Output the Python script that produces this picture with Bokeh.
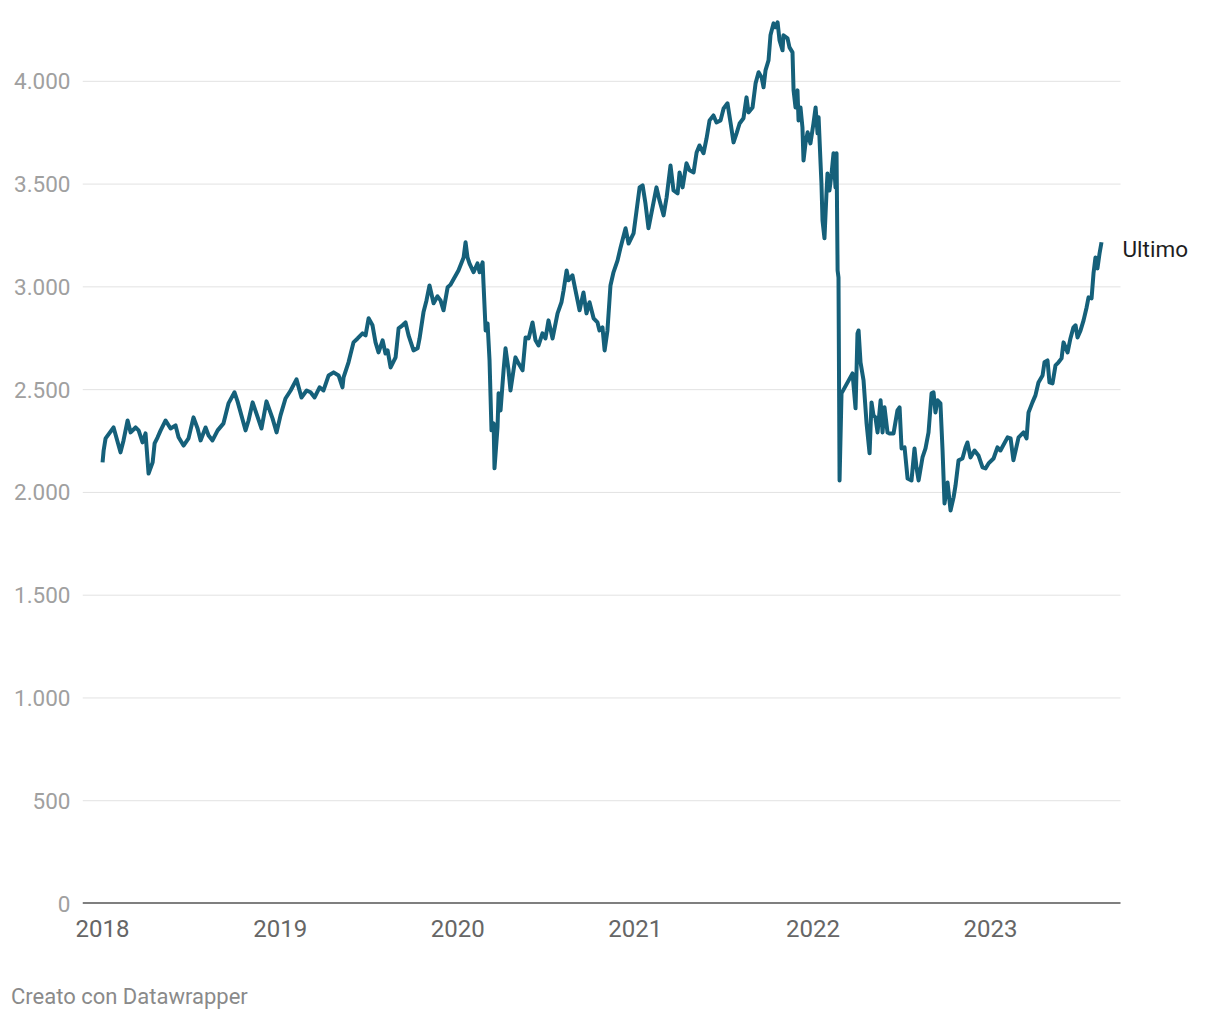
from bokeh.plotting import figure
from bokeh.models import Range1d, FixedTicker, Label, Div
from bokeh.layouts import column
from bokeh.embed import file_html
from bokeh.resources import INLINE

# decimal years (2018.0 = 1 Jan 2018) and index values
t = [2018.000, 2018.006, 2018.017, 2018.062, 2018.101, 2018.118, 2018.141, 2018.158, 2018.186, 2018.203,
     2018.225, 2018.242, 2018.259, 2018.282, 2018.293, 2018.310, 2018.327, 2018.355, 2018.383, 2018.411,
     2018.428, 2018.456, 2018.484, 2018.512, 2018.535, 2018.552, 2018.580, 2018.597, 2018.619, 2018.648,
     2018.681, 2018.709, 2018.743, 2018.760, 2018.805, 2018.822, 2018.845, 2018.895, 2018.923, 2018.957,
     2018.980, 2019.002, 2019.030, 2019.059, 2019.092, 2019.120, 2019.149, 2019.171, 2019.194, 2019.222,
     2019.244, 2019.273, 2019.301, 2019.329, 2019.351, 2019.357, 2019.385, 2019.413, 2019.436, 2019.464,
     2019.481, 2019.498, 2019.520, 2019.537, 2019.554, 2019.577, 2019.593, 2019.605, 2019.622, 2019.650,
     2019.667, 2019.689, 2019.706, 2019.723, 2019.751, 2019.774, 2019.785, 2019.807, 2019.824, 2019.841,
     2019.864, 2019.886, 2019.903, 2019.920, 2019.943, 2019.959, 2020.004, 2020.033, 2020.044, 2020.055,
     2020.066, 2020.089, 2020.111, 2020.123, 2020.140, 2020.145, 2020.157, 2020.168, 2020.179, 2020.190,
     2020.202, 2020.207, 2020.224, 2020.230, 2020.241, 2020.258, 2020.269, 2020.286, 2020.297, 2020.314,
     2020.325, 2020.342, 2020.365, 2020.382, 2020.399, 2020.421, 2020.438, 2020.455, 2020.477, 2020.494,
     2020.511, 2020.534, 2020.562, 2020.584, 2020.596, 2020.613, 2020.624, 2020.646, 2020.663, 2020.686,
     2020.708, 2020.725, 2020.742, 2020.765, 2020.787, 2020.798, 2020.815, 2020.827, 2020.843, 2020.860,
     2020.877, 2020.900, 2020.917, 2020.945, 2020.962, 2020.990, 2021.007, 2021.024, 2021.041, 2021.057,
     2021.074, 2021.097, 2021.119, 2021.136, 2021.159, 2021.176, 2021.198, 2021.215, 2021.238, 2021.249,
     2021.266, 2021.288, 2021.305, 2021.328, 2021.345, 2021.361, 2021.384, 2021.401, 2021.418, 2021.440,
     2021.457, 2021.480, 2021.497, 2021.519, 2021.536, 2021.553, 2021.570, 2021.587, 2021.609, 2021.626,
     2021.637, 2021.660, 2021.677, 2021.694, 2021.711, 2021.722, 2021.733, 2021.750, 2021.761, 2021.778,
     2021.789, 2021.801, 2021.812, 2021.829, 2021.834, 2021.857, 2021.868, 2021.885, 2021.891, 2021.902,
     2021.913, 2021.919, 2021.930, 2021.941, 2021.947, 2021.958, 2021.970, 2021.986, 2022.003, 2022.015,
     2022.026, 2022.032, 2022.043, 2022.048, 2022.054, 2022.065, 2022.077, 2022.082, 2022.093, 2022.105,
     2022.116, 2022.127, 2022.133, 2022.139, 2022.144, 2022.150, 2022.161, 2022.223, 2022.240, 2022.251,
     2022.257, 2022.268, 2022.285, 2022.302, 2022.319, 2022.330, 2022.341, 2022.352, 2022.364, 2022.381,
     2022.392, 2022.403, 2022.420, 2022.431, 2022.454, 2022.476, 2022.488, 2022.499, 2022.516, 2022.533,
     2022.555, 2022.572, 2022.583, 2022.595, 2022.617, 2022.634, 2022.651, 2022.668, 2022.679, 2022.690,
     2022.702, 2022.718, 2022.730, 2022.741, 2022.758, 2022.775, 2022.792, 2022.803, 2022.820, 2022.842,
     2022.859, 2022.870, 2022.887, 2022.910, 2022.932, 2022.955, 2022.972, 2022.989, 2023.017, 2023.039,
     2023.056, 2023.096, 2023.113, 2023.129, 2023.158, 2023.186, 2023.203, 2023.214, 2023.236, 2023.253,
     2023.270, 2023.293, 2023.304, 2023.321, 2023.332, 2023.349, 2023.366, 2023.383, 2023.400, 2023.411,
     2023.434, 2023.450, 2023.467, 2023.479, 2023.490, 2023.507, 2023.524, 2023.541, 2023.552, 2023.569,
     2023.580, 2023.591, 2023.602, 2023.614, 2023.625]

v = [2146, 2204, 2263, 2316, 2195, 2253, 2350, 2292, 2316, 2302,
     2243, 2287, 2092, 2146, 2238, 2268, 2302, 2350, 2311, 2326,
     2268, 2228, 2263, 2365, 2311, 2253, 2316, 2277, 2253, 2302,
     2336, 2433, 2487, 2443, 2302, 2350, 2438, 2311, 2443, 2360,
     2292, 2375, 2457, 2496, 2550, 2462, 2496, 2487, 2462, 2511,
     2496, 2569, 2584, 2569, 2511, 2560, 2633, 2730, 2749, 2774,
     2764, 2847, 2813, 2730, 2681, 2740, 2676, 2691, 2608, 2657,
     2798, 2813, 2827, 2764, 2691, 2701, 2749, 2876, 2934, 3007,
     2920, 2954, 2934, 2886, 2998, 3010, 3080, 3143, 3217, 3143,
     3114, 3071, 3114, 3071, 3119, 3017, 2788, 2822, 2642, 2302,
     2336, 2117, 2316, 2482, 2399, 2594, 2701, 2594, 2496, 2594,
     2657, 2628, 2594, 2754, 2749, 2827, 2740, 2715, 2774, 2749,
     2837, 2749, 2871, 2925, 2983, 3080, 3032, 3056, 2983, 2886,
     2973, 2871, 2925, 2847, 2827, 2788, 2803, 2691, 2788, 3007,
     3071, 3129, 3192, 3285, 3211, 3260, 3372, 3484, 3494, 3406,
     3285, 3387, 3484, 3421, 3348, 3435, 3591, 3469, 3455, 3557,
     3484, 3601, 3567, 3557, 3654, 3688, 3650, 3722, 3810, 3834,
     3800, 3810, 3868, 3893, 3800, 3703, 3747, 3795, 3820, 3922,
     3849, 3873, 3990, 4044, 4019, 3971, 4053, 4102, 4224, 4282,
     4263, 4287, 4199, 4151, 4224, 4209, 4165, 4141, 3956, 3873,
     3956, 3810, 3873, 3776, 3615, 3698, 3752, 3698, 3795, 3873,
     3747, 3825, 3601, 3503, 3323, 3236, 3469, 3552, 3469, 3552,
     3650, 3484, 3650, 3080, 3046, 2058, 2482, 2579, 2409, 2774,
     2788, 2633, 2545, 2336, 2190, 2438, 2375, 2365, 2292, 2448,
     2292, 2414, 2292, 2287, 2287, 2399, 2414, 2214, 2219, 2068,
     2058, 2214, 2122, 2058, 2170, 2214, 2292, 2482, 2487, 2389,
     2448, 2433, 2204, 1946, 2048, 1912, 1976, 2034, 2156, 2165,
     2219, 2243, 2170, 2204, 2180, 2122, 2117, 2141, 2165, 2219,
     2204, 2268, 2263, 2156, 2268, 2292, 2263, 2389, 2438, 2472,
     2535, 2569, 2633, 2642, 2535, 2530, 2618, 2633, 2652, 2730,
     2681, 2749, 2803, 2813, 2754, 2788, 2837, 2900, 2949, 2944,
     3066, 3143, 3090, 3163, 3217]

x_ticks = [2018, 2019, 2020, 2021, 2022, 2023]
x_tick_labels = ["2018", "2019", "2020", "2021", "2022", "2023"]
y_ticks = [0, 500, 1000, 1500, 2000, 2500, 3000, 3500, 4000]
y_tick_labels = ["0", "500", "1.000", "1.500", "2.000", "2.500", "3.000", "3.500", "4.000"]
series_label = "Ultimo"
footer = "Creato con Datawrapper"

FONT = "Roboto"
X_START, GRID_END, X_END = 2017.887, 2023.732, 2024.250

p = figure(width=1212, height=973, output_backend="svg", toolbar_location=None,
           x_range=Range1d(X_START, X_END), y_range=Range1d(0, 4330),
           min_border_left=82, min_border_right=0, min_border_top=13, min_border_bottom=70)
p.outline_line_color = None
p.background_fill_color = "white"
p.border_fill_color = "white"
p.xgrid.visible = False
p.ygrid.visible = False

# horizontal grid lines (stop at the right edge of the chart area) and the zero baseline
grid_y = [y for y in y_ticks if y != 0]
p.segment(x0=[X_START] * len(grid_y), x1=[GRID_END] * len(grid_y), y0=grid_y, y1=grid_y,
          line_color="#e2e2e2", line_width=1)
p.segment(x0=[X_START], x1=[GRID_END], y0=[0], y1=[0], line_color="#000000", line_width=2)

p.line(t, v, line_color="#15607a", line_width=4, line_join="round")

p.yaxis.ticker = FixedTicker(ticks=y_ticks)
p.yaxis.major_label_overrides = {k: s for k, s in zip(y_ticks, y_tick_labels)}
p.yaxis.axis_line_color = None
p.yaxis.major_tick_line_color = None
p.yaxis.minor_tick_line_color = None
p.yaxis.major_tick_out = 0
p.yaxis.major_tick_in = 0
p.yaxis.major_label_standoff = 12
p.yaxis.major_label_text_font = FONT
p.yaxis.major_label_text_font_size = "22.5px"
p.yaxis.major_label_text_color = "#a0a0a0"

p.xaxis.ticker = FixedTicker(ticks=x_ticks)
p.xaxis.major_label_overrides = {k: s for k, s in zip(x_ticks, x_tick_labels)}
p.xaxis.axis_line_color = None
p.xaxis.major_tick_line_color = None
p.xaxis.minor_tick_line_color = None
p.xaxis.major_tick_out = 0
p.xaxis.major_tick_in = 0
p.xaxis.major_label_standoff = 16
p.xaxis.major_label_text_font = FONT
p.xaxis.major_label_text_font_size = "24px"
p.xaxis.major_label_text_color = "#666666"

lbl = Label(x=t[-1], y=v[-1], text=series_label, x_offset=21, y_offset=-7,
            text_baseline="alphabetic", text_align="left", text_font=FONT,
            text_font_size="22.5px", text_color="#1e1e1e")
p.add_layout(lbl)

div = Div(text=footer, width=400, height=30, margin=(8, 0, 0, 11),
          styles={"font-family": FONT, "font-size": "22px", "color": "#8a8a8a"})

layout = column(p, div)
open("out.html", "w").write(file_html(layout, INLINE))
